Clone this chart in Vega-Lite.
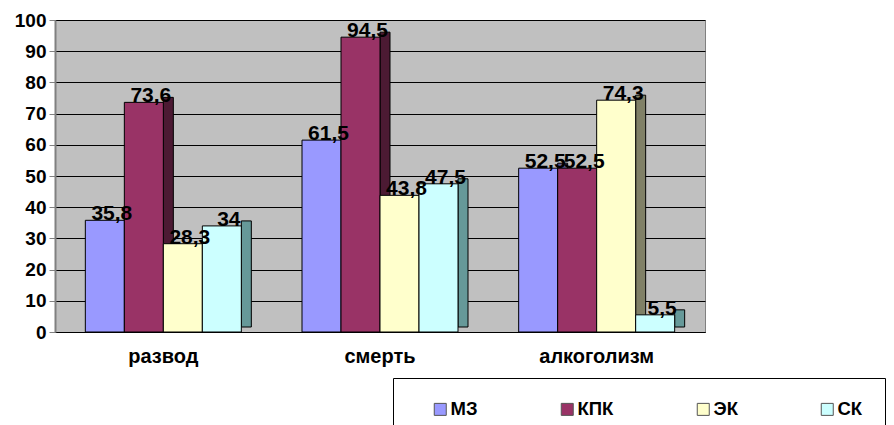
{
  "$schema": "https://vega.github.io/schema/vega-lite/v6.json",
  "width": 650,
  "height": 312,
  "autosize": {"type": "none"},
  "padding": {"left": 55, "top": 20, "right": 189, "bottom": 93},
  "background": "white",
  "config": {
    "font": "Liberation Sans",
    "view": {"fill": "#C0C0C0", "stroke": "#808080", "strokeWidth": 1}
  },
  "data": {
    "values": [
      {"cat": "развод", "series": "МЗ", "value": 35.8, "label": "35,8"},
      {"cat": "развод", "series": "КПК", "value": 73.6, "label": "73,6"},
      {"cat": "развод", "series": "ЭК", "value": 28.3, "label": "28,3"},
      {"cat": "развод", "series": "СК", "value": 34, "label": "34"},
      {"cat": "смерть", "series": "МЗ", "value": 61.5, "label": "61,5"},
      {"cat": "смерть", "series": "КПК", "value": 94.5, "label": "94,5"},
      {"cat": "смерть", "series": "ЭК", "value": 43.8, "label": "43,8"},
      {"cat": "смерть", "series": "СК", "value": 47.5, "label": "47,5"},
      {"cat": "алкоголизм", "series": "МЗ", "value": 52.5, "label": "52,5"},
      {"cat": "алкоголизм", "series": "КПК", "value": 52.5, "label": "52,5"},
      {"cat": "алкоголизм", "series": "ЭК", "value": 74.3, "label": "74,3"},
      {"cat": "алкоголизм", "series": "СК", "value": 5.5, "label": "5,5"}
    ]
  },
  "encoding": {
    "x": {
      "field": "cat", "type": "nominal",
      "sort": ["развод", "смерть", "алкоголизм"],
      "scale": {"paddingInner": 0.28, "paddingOuter": 0.14},
      "axis": {
        "title": null, "labelAngle": 0, "labelFontSize": 20, "labelFontWeight": "bold",
        "labelColor": "black", "labelPadding": 14, "ticks": false,
        "domainColor": "#000000", "grid": false
      }
    },
    "y": {
      "field": "value", "type": "quantitative",
      "scale": {"domain": [0, 100], "nice": false},
      "axis": {
        "title": null, "values": [0, 10, 20, 30, 40, 50, 60, 70, 80, 90, 100],
        "labelOverlap": false,
        "labelFontSize": 19, "labelFontWeight": "bold", "labelColor": "black",
        "gridColor": "black", "gridWidth": 1, "domainColor": "#808080", "domainWidth": 2,
        "tickColor": "#808080", "tickSize": 6, "labelPadding": 3
      }
    }
  },
  "layer": [
    {
      "mark": {"type": "bar", "width": 10, "yOffset": -5, "stroke": "black", "strokeWidth": 1},
      "encoding": {
        "xOffset": {"field": "series", "type": "nominal", "sort": ["МЗ", "КПК", "ЭК", "СК"], "scale": {"range": [24.5, 180.5]}},
        "color": {
          "field": "series", "type": "nominal",
          "scale": {"domain": ["МЗ", "КПК", "ЭК", "СК"], "range": ["#5C5C99", "#4C1A33", "#808066", "#669999"]},
          "legend": null
        }
      }
    },
    {
      "mark": {"type": "bar", "stroke": "black", "strokeWidth": 1},
      "encoding": {
        "xOffset": {"field": "series", "type": "nominal", "sort": ["МЗ", "КПК", "ЭК", "СК"]},
        "fill": {
          "field": "series", "type": "nominal",
          "scale": {"domain": ["МЗ", "КПК", "ЭК", "СК"], "range": ["#9999FF", "#993366", "#FFFFCC", "#CCFFFF"]},
          "legend": {
            "title": null, "orient": "none", "legendX": 338, "legendY": 358,
            "direction": "horizontal", "columns": 4, "columnPadding": 64,
            "symbolType": "square", "symbolSize": 144, "symbolStrokeColor": "#555555",
            "symbolStrokeWidth": 1, "symbolOffset": 16, "labelFontSize": 18.5, "labelFontWeight": "bold",
            "labelColor": "black", "labelOffset": 1,
            "padding": 22, "strokeColor": "black", "fillColor": "white"
          }
        }
      }
    },
    {
      "mark": {"type": "text", "baseline": "bottom", "dy": 4, "dx": 7, "fontSize": 21, "fontWeight": "bold", "color": "black"},
      "encoding": {
        "xOffset": {"field": "series", "type": "nominal", "sort": ["МЗ", "КПК", "ЭК", "СК"]},
        "text": {"field": "label"}
      }
    }
  ],
  "resolve": {"scale": {"color": "independent", "xOffset": "independent"}}
}
